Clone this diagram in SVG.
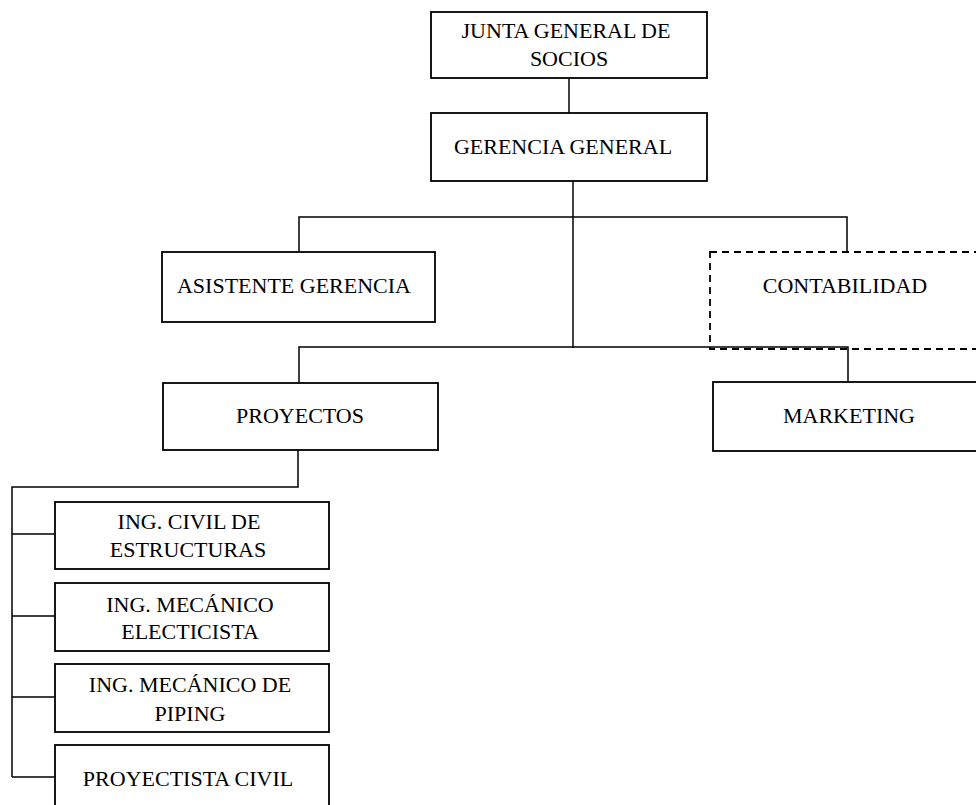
<svg xmlns="http://www.w3.org/2000/svg" width="976" height="805" viewBox="0 0 976 805">
  <style>
    .box { fill: #ffffff; stroke: #000000; stroke-width: 1.8; }
    .dashed { stroke-dasharray: 7 5; }
    .link { fill: none; stroke: #000000; stroke-width: 1.5; }
    text { font-family: "Liberation Serif", "Times New Roman", serif; font-size: 22px; fill: #000000; text-anchor: middle; }
  </style>
  <rect width="976" height="805" fill="#ffffff"/>

  <g id="junta">
    <rect class="box" x="431" y="12" width="276" height="66"/>
    <text x="566" y="38">JUNTA GENERAL DE</text>
    <text x="569" y="66">SOCIOS</text>
  </g>

  <g id="gerencia">
    <rect class="box" x="431" y="113" width="276" height="68"/>
    <text x="563" y="154">GERENCIA GENERAL</text>
  </g>

  <g id="asistente">
    <rect class="box" x="162" y="252" width="273" height="70"/>
    <text x="294" y="293">ASISTENTE GERENCIA</text>
  </g>

  <g id="contabilidad">
    <rect class="box dashed" x="710" y="252" width="290" height="97"/>
    <text x="845" y="293">CONTABILIDAD</text>
  </g>

  <g id="proyectos">
    <rect class="box" x="163" y="383" width="275" height="67"/>
    <text x="300" y="423">PROYECTOS</text>
  </g>

  <g id="marketing">
    <rect class="box" x="713" y="382" width="290" height="69"/>
    <text x="849" y="423">MARKETING</text>
  </g>

  <g id="ing-civil">
    <rect class="box" x="55" y="502" width="274" height="67"/>
    <text x="189" y="529">ING. CIVIL DE</text>
    <text x="188" y="557">ESTRUCTURAS</text>
  </g>

  <g id="ing-mecanico-electricista">
    <rect class="box" x="55" y="583" width="274" height="68"/>
    <text x="190" y="612">ING. MECÁNICO</text>
    <text x="190" y="639">ELECTICISTA</text>
  </g>

  <g id="ing-mecanico-piping">
    <rect class="box" x="55" y="664" width="274" height="68"/>
    <text x="190" y="692">ING. MECÁNICO DE</text>
    <text x="190" y="721">PIPING</text>
  </g>

  <g id="proyectista-civil">
    <rect class="box" x="55" y="745" width="274" height="80"/>
    <text x="188" y="786">PROYECTISTA CIVIL</text>
  </g>

  <!-- connectors, drawn last so the lower bus stays solid over the dashed box edge -->
  <g id="connectors">
    <path class="link" d="M569 78 V113"/>
    <path class="link" d="M573 181 V348"/>
    <path class="link" d="M299 252 V217 H847 V252"/>
    <path class="link" d="M299 383 V347 H848 V382"/>
    <path class="link" d="M298 450 V487 H12 V777"/>
    <path class="link" d="M12 534 H55"/>
    <path class="link" d="M12 616 H55"/>
    <path class="link" d="M12 697 H55"/>
    <path class="link" d="M12 777 H55"/>
  </g>
</svg>
